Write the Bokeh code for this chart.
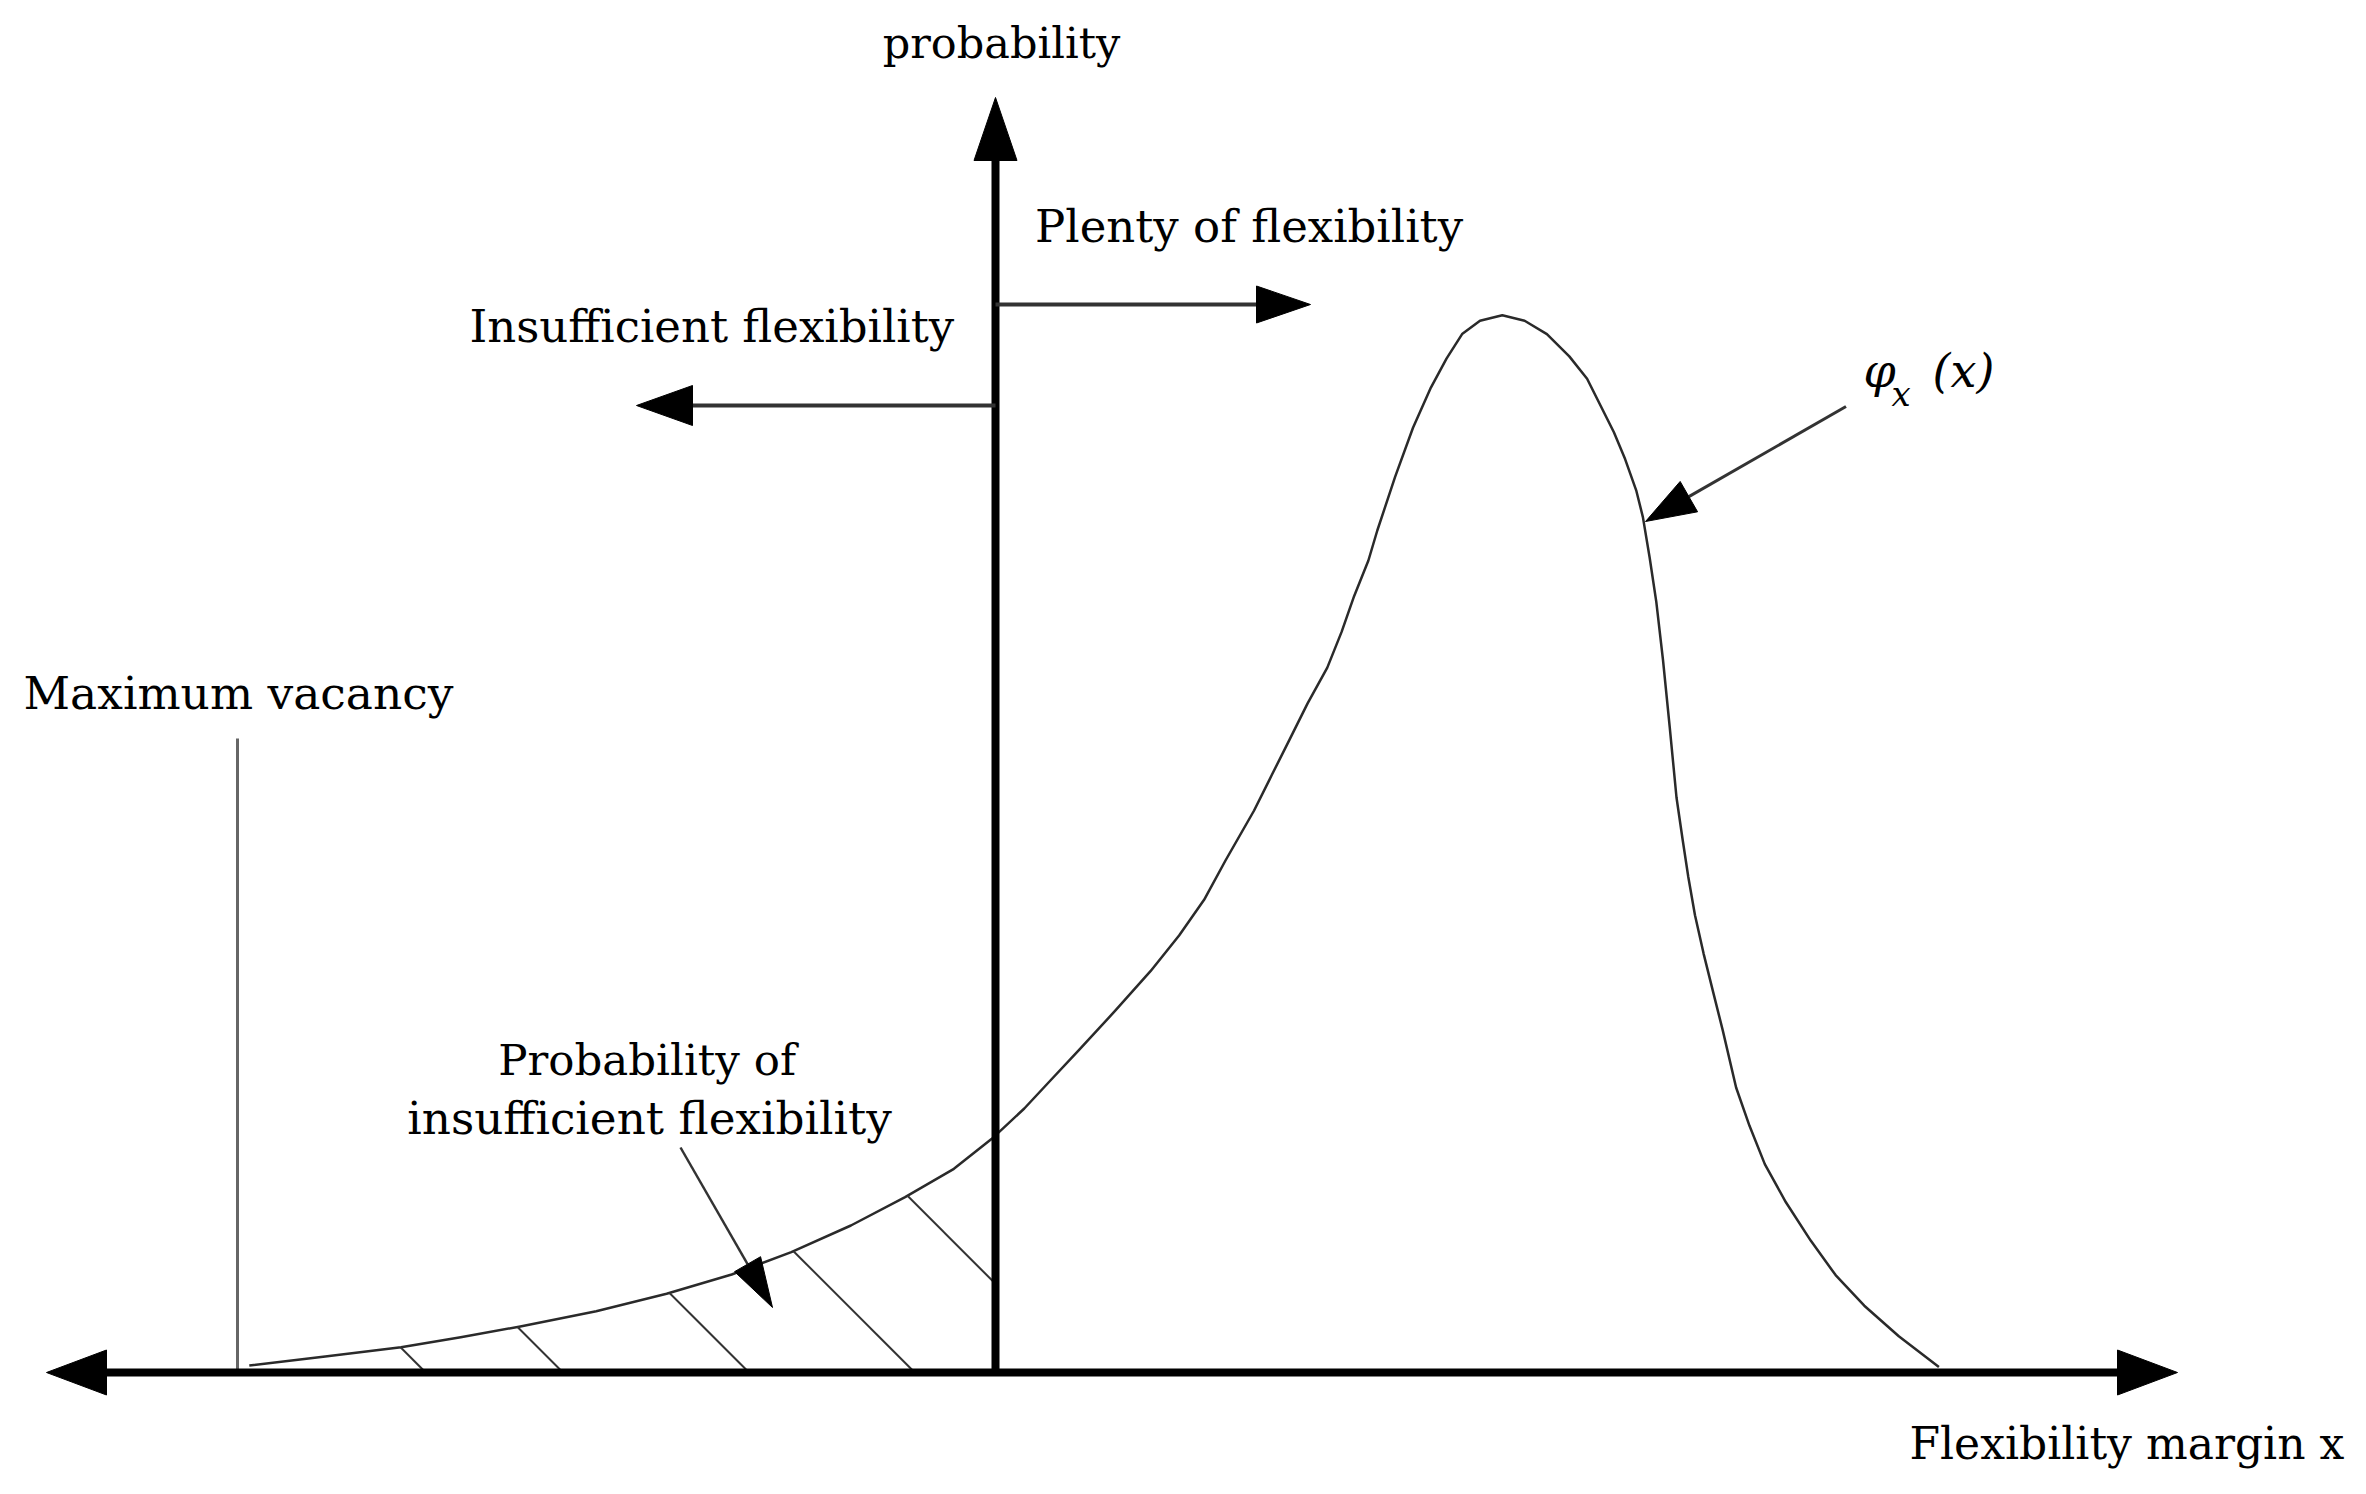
import numpy as np
from bokeh.plotting import figure
from bokeh.models import Range1d
from bokeh.core.properties import value
from bokeh.embed import file_html
from bokeh.resources import INLINE

# ---------------- data ----------------
# density curve phi_x(x): flexibility margin x vs probability (arbitrary units, axes cross at 0,0)
curve_x = [-7.462, -6.703, -5.945, -5.348, -4.752, -3.993, -3.289, -2.638, -2.042, -1.446,
           -0.904, -0.416, -0.037, 0.288, 0.549, 0.836, 1.193, 1.550, 1.836, 2.086,
           2.300, 2.586, 2.764, 2.943, 3.121, 3.318, 3.461, 3.586, 3.729, 3.818,
           3.996, 4.175, 4.354, 4.510, 4.666, 4.845, 5.068, 5.291, 5.514, 5.738,
           5.916, 6.050, 6.184, 6.296, 6.407, 6.474, 6.541, 6.608, 6.675, 6.742,
           6.810, 6.870, 6.928, 6.995, 7.081, 7.176, 7.272, 7.406, 7.540, 7.693,
           7.904, 8.152, 8.401, 8.688, 9.033, 9.434]
curve_y = [0.070, 0.160, 0.253, 0.353, 0.460, 0.613, 0.787, 0.980, 1.203, 1.470,
           1.753, 2.037, 2.337, 2.640, 2.920, 3.227, 3.613, 4.013, 4.370, 4.727,
           5.120, 5.620, 5.977, 6.334, 6.691, 7.049, 7.406, 7.763, 8.120, 8.420,
           8.956, 9.447, 9.849, 10.139, 10.384, 10.518, 10.572, 10.518, 10.384, 10.161,
           9.938, 9.670, 9.402, 9.134, 8.822, 8.554, 8.152, 7.706, 7.125, 6.456,
           5.750, 5.337, 4.955, 4.572, 4.189, 3.806, 3.424, 2.850, 2.467, 2.084,
           1.702, 1.319, 0.974, 0.668, 0.362, 0.056]

# hatch lines of the "insufficient flexibility" area: x where each hatch meets the curve
hatch_top_x = [-5.95, -4.78, -3.26, -2.02, -0.88]

max_vacancy_x = -7.58        # "Maximum vacancy" line
max_vacancy_top = 6.34

axis_left, axis_right, axis_top = -9.49, 11.82, 12.75
plenty_y, plenty_tip = 10.68, 3.15
insuff_y, insuff_tip = 9.67, -3.59

# ---------------- figure ----------------
W, H = 2350, 1478
XR = (-9.95, 13.55)
YR = (-1.06, 13.72)
PX = W / (XR[1] - XR[0])   # pixels per data unit (same on both axes)

p = figure(width=W, height=H, x_range=Range1d(*XR), y_range=Range1d(*YR),
           output_backend="svg", toolbar_location=None, min_border=0,
           background_fill_color="white", border_fill_color="white")
p.axis.visible = False
p.grid.visible = False
p.outline_line_color = None

FONT = value("DejaVu Serif")


def head(tx, ty, fx, fy, L, Wd):
    d = np.array([tx - fx, ty - fy], float)
    d /= np.hypot(*d)
    n = np.array([-d[1], d[0]])
    b = np.array([tx, ty]) - d * L / PX
    p1 = b + n * Wd / 2 / PX
    p2 = b - n * Wd / 2 / PX
    return [tx, p1[0], p2[0]], [ty, p1[1], p2[1]], b


def arrow(fx, fy, tx, ty, L, Wd, lw, color):
    hx, hy, b = head(tx, ty, fx, fy, L, Wd)
    p.line([fx, b[0]], [fy, b[1]], line_width=lw, line_color=color)
    p.patch(hx, hy, fill_color="black", line_color="black", line_width=1)


# curve
p.line(curve_x, curve_y, line_width=2.5, line_color="#2a2a2a", line_join="round")

# hatching
cx = np.array(curve_x)
cy = np.array(curve_y)
for hx in hatch_top_x:
    hy = float(np.interp(hx, cx, cy))
    fx = hx + hy
    if fx <= 0:
        ex, ey = fx, 0.0
    else:
        ex, ey = 0.0, hx + hy
    p.line([hx, ex], [hy, ey], line_width=2, line_color="#333333")

# maximum vacancy line
p.line([max_vacancy_x, max_vacancy_x], [0, max_vacancy_top], line_width=3, line_color="#666666")

# axes with arrow heads
hxr, hyr, br = head(axis_right, 0, 0, 0, 60, 45)
hxl, hyl, bl = head(axis_left, 0, 0, 0, 60, 45)
p.line([bl[0], br[0]], [0, 0], line_width=8, line_color="black")
p.patch(hxr, hyr, fill_color="black", line_color="black")
p.patch(hxl, hyl, fill_color="black", line_color="black")
arrow(0, 0, 0, axis_top, 63, 43, 8, "black")

# plenty / insufficient arrows
arrow(0, plenty_y, plenty_tip, plenty_y, 54, 37, 4, "#333333")
arrow(0, insuff_y, insuff_tip, insuff_y, 56, 40, 4, "#333333")

# annotation arrows
arrow(8.505, 9.66, 6.50, 8.51, 50, 35, 3, "#333333")
arrow(-3.15, 2.25, -2.23, 0.65, 50, 30, 2.5, "#333333")

# ---------------- texts ----------------
DY = 0.19   # baseline correction


def txt(x, y, s, size, align="left", style="normal"):
    p.text([x], [y + DY], text=[s], text_font=FONT, text_font_size=f"{size}px",
           text_align=align, text_baseline="alphabetic", text_color="black",
           text_font_style=style)


txt(0.06, 13.11, "probability", 43, "center")
txt(0.395, 11.27, "Plenty of flexibility", 45)
txt(-5.26, 10.27, "Insufficient flexibility", 45)
txt(-9.72, 6.60, "Maximum vacancy", 45.5)
txt(9.14, -0.90, "Flexibility margin x", 44)
txt(-3.484, 2.94, "Probability of", 43.5, "center")
txt(-3.46, 2.35, "insufficient flexibility", 45.3, "center")

txt(8.68, 9.83, "φ", 46, style="italic")
txt(8.96, 9.60, "x", 34, style="italic")
txt(9.37, 9.83, "(x)", 46, style="italic")

open("out.html", "w").write(file_html(p, INLINE))
